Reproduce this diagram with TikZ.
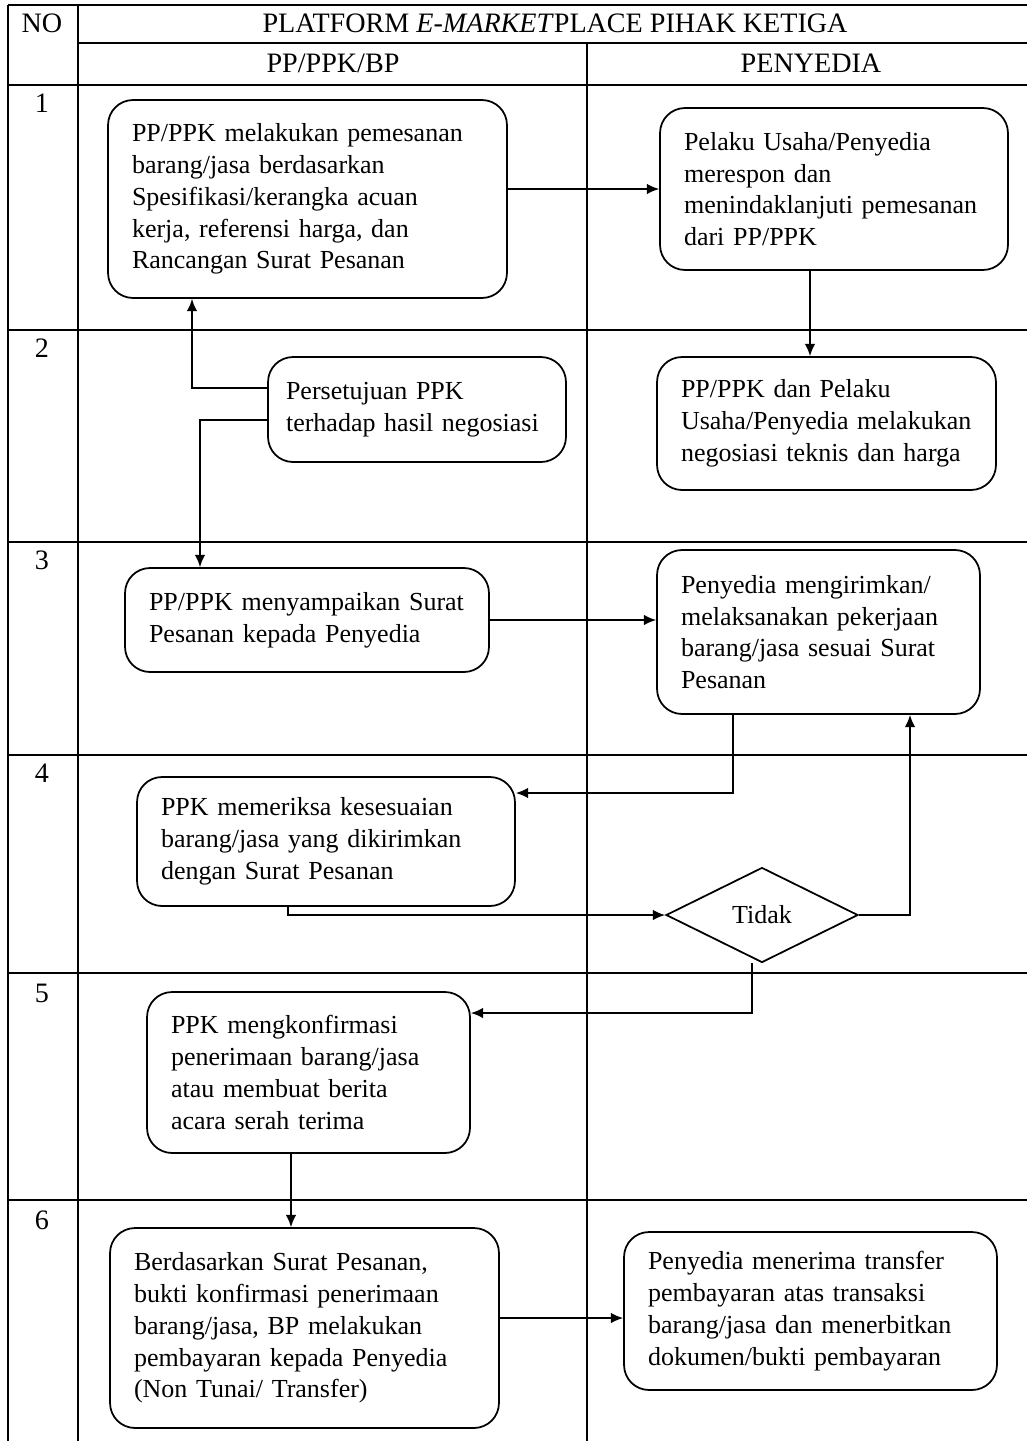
\documentclass[tikz,border=0pt]{standalone}
\usepackage{fontspec}
\setmainfont{Liberation Serif}
\usetikzlibrary{arrows.meta,shapes.geometric}

\begin{document}
\begin{tikzpicture}[x=0.02cm, y=-0.02cm, >={Latex[length=7pt,width=6pt]}]
\useasboundingbox (0,0) rectangle (1027,1441);
\tikzstyle{every node} = [font=\fontsize{14.8}{18.1}\selectfont]
\tikzstyle{box} = [draw, line width=1pt, rounded corners=0.5cm, align=left, inner xsep=0.48cm]
\tikzstyle{grid} = [line width=0.6pt]
\tikzstyle{head} = [font=\fontsize{16}{19}\selectfont]
% table
\draw[grid] (8,5) -- (1027,5)
	(78,43) -- (1027,43)
	(8,85) -- (1027,85)
	(8,5) -- (8,1441)
	(78,5) -- (78,1441)
	(587,43) -- (587,1441);
\foreach \y in {330,542,755,973,1200}
	\draw[grid] (8,\y) -- (1027,\y);
\node[head] (no) at (42,23) {NO};
\node[head] (judul) at (555,23) {PLATFORM \textit{E-MARKET}PLACE PIHAK KETIGA};
\node[head] (pp) at (333,63) {PP/PPK/BP};
\node[head] (penyedia) at (811,63) {PENYEDIA};
\foreach \n/\y in {1/103,2/348,3/560,4/773,5/993,6/1220}
	\node[head] (no\n) at (42,\y) {\n};
% boxes
\node[box, text width=7.02cm, minimum height=3.96cm] (pesan) at (307.5,199) {PP/PPK melakukan pemesanan\\barang/jasa berdasarkan\\Spesifikasi/kerangka acuan\\kerja, referensi harga, dan\\Rancangan Surat Pesanan};
\node[box, text width=6.00cm, minimum height=3.24cm] (respon) at (834,189) {Pelaku Usaha/Penyedia\\merespon dan\\menindaklanjuti pemesanan\\dari PP/PPK};
\node[box, inner xsep=0.36cm, text width=5.24cm, minimum height=2.10cm] (setuju) at (417,409.5) {Persetujuan PPK\\terhadap hasil negosiasi};
\node[box, text width=5.82cm, minimum height=2.66cm] (nego) at (826.5,423.5) {PP/PPK dan Pelaku\\Usaha/Penyedia melakukan\\negosiasi teknis dan harga};
\node[box, text width=6.32cm, minimum height=2.08cm] (kirimsp) at (307,620) {PP/PPK menyampaikan Surat\\Pesanan kepada Penyedia};
\node[box, text width=5.50cm, minimum height=3.28cm] (kerja) at (818.5,632) {Penyedia mengirimkan/\\melaksanakan pekerjaan\\barang/jasa sesuai Surat\\Pesanan};
\node[box, text width=6.60cm, minimum height=2.58cm] (periksa) at (326,841.5) {PPK memeriksa kesesuaian\\barang/jasa yang dikirimkan\\dengan Surat Pesanan};
\node[draw, diamond, line width=1pt, minimum width=3.84cm, minimum height=1.9cm, inner sep=0pt] (tidak) at (762,915) {Tidak};
\node[box, text width=5.50cm, minimum height=3.22cm] (konfirm) at (308.5,1072.5) {PPK mengkonfirmasi\\penerimaan barang/jasa\\atau membuat berita\\acara serah terima};
\node[box, text width=6.82cm, minimum height=4.00cm] (bayar) at (304.5,1328) {Berdasarkan Surat Pesanan,\\bukti konfirmasi penerimaan\\barang/jasa, BP melakukan\\pembayaran kepada Penyedia\\(Non Tunai/ Transfer)};
\node[box, text width=6.50cm, minimum height=3.16cm] (terima) at (810.5,1311) {Penyedia menerima transfer\\pembayaran atas transaksi\\barang/jasa dan menerbitkan\\dokumen/bukti pembayaran};
% connectors
\tikzstyle{flow} = [->, line width=0.9pt]
\draw[flow] (pesan.east |- respon.west) -- (respon.west);
\draw[flow] (respon.south -| 810,0) -- (nego.north -| 810,0);
\draw[flow] (setuju.west |- 0,388) -| (pesan.south -| 192,0);
\draw[flow] (setuju.west |- 0,420) -| (kirimsp.north -| 200,0);
\draw[flow] (kirimsp.east) -- (kirimsp.east -| kerja.west);
\draw[flow] (kerja.south -| 733,0) |- (periksa.east |- 0,793);
\draw[flow] (periksa.south -| 288,0) |- (tidak.west);
\draw[flow] (tidak.east) -| (kerja.south -| 910,0);
\draw[flow] (tidak.south -| 752,0) |- (konfirm.east |- 0,1013);
\draw[flow] (konfirm.south -| 291,0) -- (bayar.north -| 291,0);
\draw[flow] (bayar.east |- 0,1318) -- (terima.west |- 0,1318);
\end{tikzpicture}
\end{document}
